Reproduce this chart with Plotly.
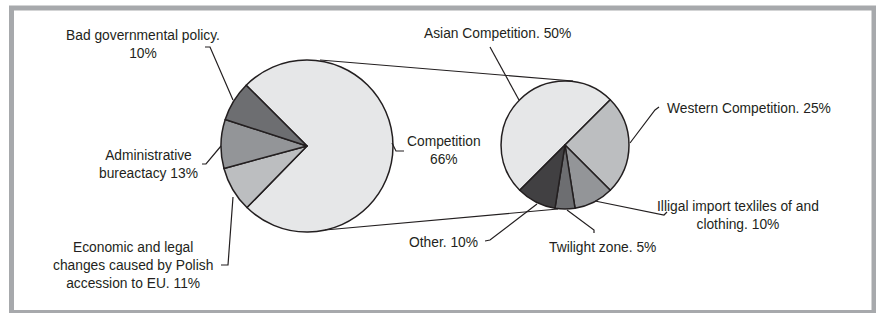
import plotly.graph_objects as go

W, H = 876, 313

# ---- data ----
left_labels = ["Competition", "Economic and legal changes caused by Polish accession to EU",
               "Administrative bureactacy", "Bad governmental policy"]
left_pct = [66, 11, 13, 10]            # percentages printed on the chart
left_drawn = [74.8, 8.5, 9.2, 7.5]     # slice shares as drawn in the picture
left_colors = ["#e6e7e8", "#bcbec0", "#939598", "#6d6e71"]

right_labels = ["Asian Competition", "Western Competition",
                "Illigal import texliles of and clothing", "Twilight zone", "Other"]
right_pct = [50, 25, 10, 5, 10]
right_colors = ["#e6e7e8", "#bcbec0", "#939598", "#6d6e71", "#414042"]

INK = "#231f20"


def px(x):
    return x / W


def py(y):
    return 1 - y / H


def dom(cx, cy, r):
    return dict(x=[px(cx - r), px(cx + r)], y=[py(cy + r), py(cy - r)])


fig = go.Figure()
fig.add_trace(go.Pie(
    labels=left_labels, values=left_drawn, sort=False, direction="clockwise",
    rotation=315, textinfo="none", hoverinfo="label",
    marker=dict(colors=left_colors, line=dict(color=INK, width=1.5)),
    domain=dom(307, 146, 86), showlegend=False))
fig.add_trace(go.Pie(
    labels=right_labels, values=right_pct, sort=False, direction="clockwise",
    rotation=225, textinfo="none", hoverinfo="label",
    marker=dict(colors=right_colors, line=dict(color=INK, width=1.5)),
    domain=dom(565, 145, 64), showlegend=False))

shapes = []
# frame
shapes.append(dict(type="rect", xref="paper", yref="paper",
                   x0=px(11.5), x1=px(874), y0=py(312.5), y1=py(8),
                   line=dict(color="#a7a9ac", width=5), fillcolor="rgba(0,0,0,0)",
                   layer="below"))


def poly(pts, width=1.2):
    d = "M " + " L ".join(f"{px(x):.5f},{py(y):.5f}" for x, y in pts)
    shapes.append(dict(type="path", xref="paper", yref="paper", path=d,
                       line=dict(color=INK, width=width), layer="above"))


# connector lines between the pies
poly([(320, 60), (573, 81)])
poly([(325, 230), (558, 209)])
# leader lines
poly([(205, 47), (210, 47), (233, 100)])
poly([(202, 164), (206, 164), (221, 146)])
poly([(221, 265), (228, 265), (233, 197)])
poly([(392, 143), (396, 151), (404, 151)])
poly([(490, 47), (519, 100)])
poly([(659, 107), (655, 110), (630, 143)])
poly([(595, 201), (664, 215), (667, 212)])
poly([(567, 210), (594, 230), (594, 233)])
poly([(485, 241), (490, 240), (537, 204)])

texts = [
    (f"{left_labels[3]}.<br>{left_pct[3]}%", 143, 45),
    (f"Administrative<br>bureactacy {left_pct[2]}%", 148, 164),
    (f"Economic and legal<br>changes caused by Polish<br>accession to EU. {left_pct[1]}%", 133, 265),
    (f"{left_labels[0]}<br>{left_pct[0]}%", 444, 150),
    (f"{right_labels[0]}. {right_pct[0]}%", 497, 33),
    (f"{right_labels[1]}. {right_pct[1]}%", 749, 109),
    (f"Illigal import texliles of and<br>clothing. {right_pct[2]}%", 738, 215),
    (f"{right_labels[3]}. {right_pct[3]}%", 602, 247),
    (f"{right_labels[4]}. {right_pct[4]}%", 443, 242),
]
annotations = [dict(text=t, x=px(x), y=py(y), xref="paper", yref="paper",
                    xanchor="center", yanchor="middle", showarrow=False,
                    align="center", font=dict(family="Arial", size=13.8, color=INK))
               for t, x, y in texts]

fig.update_layout(width=W, height=H, margin=dict(l=0, r=0, t=0, b=0),
                  paper_bgcolor="white", plot_bgcolor="white",
                  shapes=shapes, annotations=annotations)

fig.write_html("out.html", config={"displayModeBar": False},
               post_script="document.body.style.margin='0';")
